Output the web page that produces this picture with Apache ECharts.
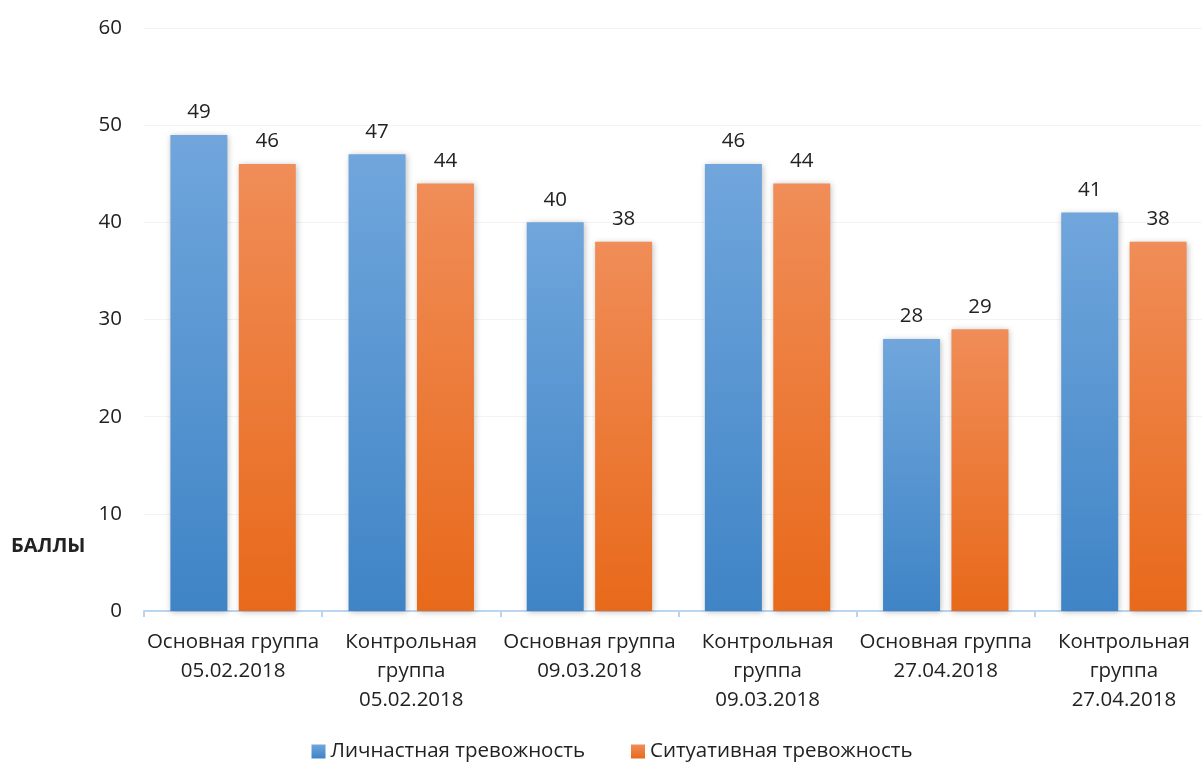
<!DOCTYPE html>
<html><head><meta charset="utf-8">
<script src="https://cdn.jsdelivr.net/npm/echarts@6/dist/echarts.min.js"></script>
<style>html,body{margin:0;padding:0;background:#fff;overflow:hidden}#c{width:1224px;height:766px}</style>
</head><body><div id="c"></div>
<script>
const categories = ["Основная группа\n05.02.2018","Контрольная\nгруппа\n05.02.2018","Основная группа\n09.03.2018","Контрольная\nгруппа\n09.03.2018","Основная группа\n27.04.2018","Контрольная\nгруппа\n27.04.2018"];
const personal = [49,47,40,46,28,41];
const situational = [46,44,38,44,29,38];
const seriesNames = ["Личнастная тревожность","Ситуативная тревожность"];
const FONT = "Open Sans";
const FS = 20.5;
const chart = echarts.init(document.getElementById('c'));
function grad(top,bottom){return new echarts.graphic.LinearGradient(0,0,0,1,[{offset:0,color:top},{offset:1,color:bottom}]);}
chart.setOption({
  animation:false,
  textStyle:{fontFamily:FONT},
  grid:{left:144,right:11,top:28,bottom:155,containLabel:false},
  legend:{bottom:-1,left:'center',itemWidth:14,itemHeight:14,itemGap:46,itemTextGap:4,icon:'rect',
    textStyle:{fontSize:FS,color:'#222',fontFamily:FONT},data:seriesNames},
  xAxis:{type:'category',data:categories,
    axisLine:{lineStyle:{color:'#bcd5ee',width:2}},
    axisTick:{show:true,length:6,lineStyle:{color:'#bcd5ee',width:2}},
    axisLabel:{fontSize:FS,color:'#222',lineHeight:29,margin:17,interval:0,fontFamily:FONT}},
  yAxis:{type:'value',min:0,max:60,interval:10,
    axisLine:{show:false},axisTick:{show:false},
    splitLine:{lineStyle:{color:'#f3f3f3'}},
    axisLabel:{fontSize:FS,color:'#222',margin:22,fontFamily:FONT}},
  graphic:[{type:'text',left:11,top:536,style:{text:'БАЛЛЫ',font:'bold 20px "Open Sans"',fill:'#222'}}],
  series:[
    {name:seriesNames[0],type:'bar',data:personal,barWidth:57,barGap:'20%',
     itemStyle:{color:grad('#70a6dc','#3f84c6'),shadowColor:'rgba(0,0,0,0.25)',shadowBlur:6,shadowOffsetX:1,shadowOffsetY:1},
     label:{show:true,position:'top',distance:12,fontSize:FS,color:'#222',fontFamily:FONT}},
    {name:seriesNames[1],type:'bar',data:situational,barWidth:57,
     itemStyle:{color:grad('#f08d58','#e8691a'),shadowColor:'rgba(0,0,0,0.25)',shadowBlur:6,shadowOffsetX:1,shadowOffsetY:1},
     label:{show:true,position:'top',distance:12,fontSize:FS,color:'#222',fontFamily:FONT}}
  ]
});
</script></body></html>
